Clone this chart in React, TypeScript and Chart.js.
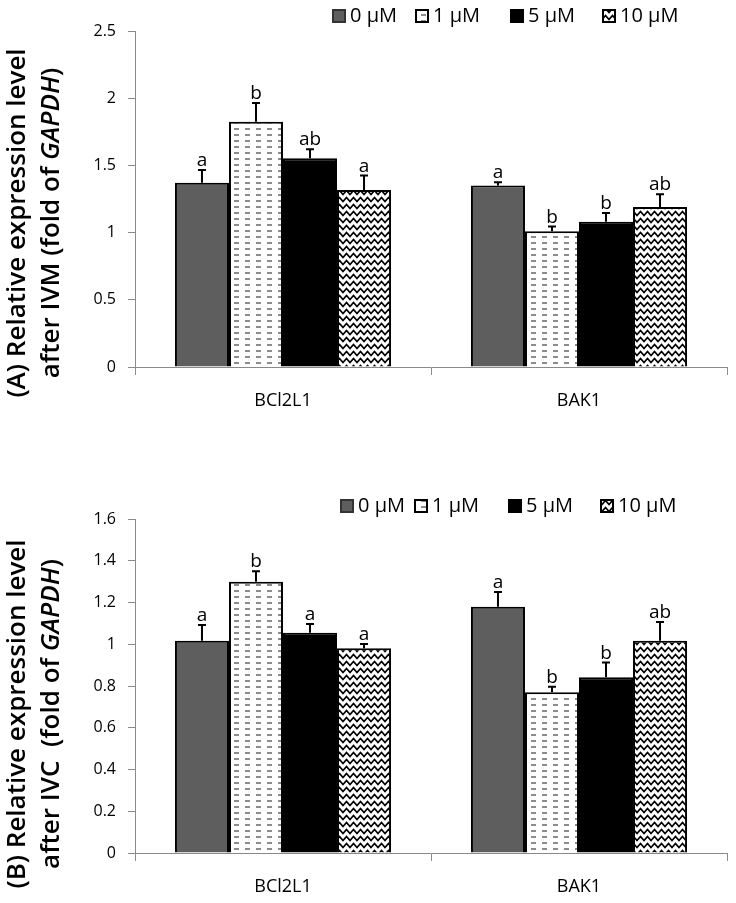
import React, { useEffect, useRef } from "react";
import { Chart, registerables } from "chart.js";

Chart.register(...registerables);

// ---------- data ----------
const categories = ["BCl2L1", "BAK1"];
const seriesLabels = ["0 μM", "1 μM", "5 μM", "10 μM"];

// (A) after IVM
const ivm0uM = [1.37, 1.35];
const ivm1uM = [1.825, 1.01];
const ivm5uM = [1.553, 1.08];
const ivm10uM = [1.317, 1.19];
const ivmErr0uM = [0.095, 0.025];
const ivmErr1uM = [0.14, 0.035];
const ivmErr5uM = [0.067, 0.065];
const ivmErr10uM = [0.107, 0.095];
const ivmLetters0uM = ["a", "a"];
const ivmLetters1uM = ["b", "b"];
const ivmLetters5uM = ["ab", "b"];
const ivmLetters10uM = ["a", "ab"];
const ivmTickLabels = ["0", "0.5", "1", "1.5", "2", "2.5"];

// (B) after IVC
const ivc0uM = [1.017, 1.18];
const ivc1uM = [1.3, 0.77];
const ivc5uM = [1.055, 0.842];
const ivc10uM = [0.981, 1.017];
const ivcErr0uM = [0.075, 0.07];
const ivcErr1uM = [0.05, 0.027];
const ivcErr5uM = [0.042, 0.07];
const ivcErr10uM = [0.02, 0.09];
const ivcLetters0uM = ["a", "a"];
const ivcLetters1uM = ["b", "b"];
const ivcLetters5uM = ["a", "b"];
const ivcLetters10uM = ["a", "ab"];
const ivcTickLabels = ["0", "0.2", "0.4", "0.6", "0.8", "1", "1.2", "1.4", "1.6"];

const titleA1 = [{ t: "(A) Relative expression level", i: false }];
const titleA2 = [
  { t: "after IVM (fold of ", i: false },
  { t: "GAPDH", i: true },
  { t: ")", i: false },
];
const titleB1 = [{ t: "(B) Relative expression level", i: false }];
const titleB2 = [
  { t: "after IVC  (fold of ", i: false },
  { t: "GAPDH", i: true },
  { t: ")", i: false },
];

// ---------- styling ----------
const FONT = '"Open Sans", "Noto Sans", sans-serif';
const AXIS = "#8a8a8a";

function dashPattern(ctx: CanvasRenderingContext2D) {
  const c = document.createElement("canvas");
  c.width = 11;
  c.height = 6;
  const g = c.getContext("2d")!;
  g.fillStyle = "#fff";
  g.fillRect(0, 0, 11, 6);
  g.strokeStyle = "#666";
  g.lineWidth = 1.5;
  g.beginPath();
  g.moveTo(3, 3);
  g.lineTo(8, 3);
  g.stroke();
  return ctx.createPattern(c, "repeat")!;
}

function zigzagPattern(ctx: CanvasRenderingContext2D) {
  const c = document.createElement("canvas");
  c.width = 7;
  c.height = 7;
  const g = c.getContext("2d")!;
  g.fillStyle = "#fff";
  g.fillRect(0, 0, 7, 7);
  g.strokeStyle = "#000";
  g.lineWidth = 1.8;
  g.beginPath();
  g.moveTo(-3.5, 1.5);
  g.lineTo(0, 5.5);
  g.lineTo(3.5, 1.5);
  g.lineTo(7, 5.5);
  g.lineTo(10.5, 1.5);
  g.stroke();
  return ctx.createPattern(c, "repeat")!;
}

type Seg = { t: string; i: boolean };

interface PanelSpec {
  height: number;
  top: number;
  xHeight: number;
  max: number;
  step: number;
  tickLabels: string[];
  values: number[][];
  errors: number[][];
  letters: string[][];
  title: Seg[][];
  titleX: number[];
  titleY: number;
  legendX: number[];
  legendY: number;
}

const panelA: PanelSpec = {
  height: 450,
  top: 31,
  xHeight: 83,
  max: 2.5,
  step: 0.5,
  tickLabels: ivmTickLabels,
  values: [ivm0uM, ivm1uM, ivm5uM, ivm10uM],
  errors: [ivmErr0uM, ivmErr1uM, ivmErr5uM, ivmErr10uM],
  letters: [ivmLetters0uM, ivmLetters1uM, ivmLetters5uM, ivmLetters10uM],
  title: [titleA1, titleA2],
  titleX: [18, 52],
  titleY: 223,
  legendX: [332, 415, 510, 602],
  legendY: 16,
};

const panelB: PanelSpec = {
  height: 453,
  top: 69,
  xHeight: 50,
  max: 1.6,
  step: 0.2,
  tickLabels: ivcTickLabels,
  values: [ivc0uM, ivc1uM, ivc5uM, ivc10uM],
  errors: [ivcErr0uM, ivcErr1uM, ivcErr5uM, ivcErr10uM],
  letters: [ivcLetters0uM, ivcLetters1uM, ivcLetters5uM, ivcLetters10uM],
  title: [titleB1, titleB2],
  titleX: [18, 52],
  titleY: 264,
  legendX: [340, 414, 508, 600],
  legendY: 56,
};

function Panel({ spec }: { spec: PanelSpec }) {
  const ref = useRef<HTMLCanvasElement>(null);

  useEffect(() => {
    const canvas = ref.current!;
    const ctx = canvas.getContext("2d")!;
    const fills: (string | CanvasPattern)[] = [
      "#5e5e5e",
      dashPattern(ctx),
      "#000000",
      zigzagPattern(ctx),
    ];

    const errorPlugin = {
      id: "errLetters",
      afterDatasetsDraw(chart: any) {
        const c = chart.ctx;
        const y = chart.scales.y;
        c.save();
        spec.values.forEach((vals, i) => {
          const meta = chart.getDatasetMeta(i);
          vals.forEach((v, j) => {
            const bar = meta.data[j];
            const x = bar.x;
            const yTop = y.getPixelForValue(v + spec.errors[i][j]);
            const yBar = y.getPixelForValue(v);
            c.strokeStyle = "#000";
            c.lineWidth = 2;
            c.beginPath();
            c.moveTo(x, yBar);
            c.lineTo(x, yTop);
            c.moveTo(x - 4, yTop);
            c.lineTo(x + 4, yTop);
            c.stroke();
            c.fillStyle = "#000";
            c.font = `19px ${FONT}`;
            c.textAlign = "center";
            c.textBaseline = "alphabetic";
            c.fillText(spec.letters[i][j], x, yTop - 4);
          });
        });
        c.restore();
      },
    };

    const legendPlugin = {
      id: "customLegend",
      afterDraw(chart: any) {
        const c = chart.ctx;
        c.save();
        seriesLabels.forEach((lab, i) => {
          const bx = spec.legendX[i];
          const by = spec.legendY - 7;
          c.fillStyle = fills[i];
          c.fillRect(bx, by, 14, 14);
          c.strokeStyle = i === 0 ? "#333" : "#000";
          c.lineWidth = 2;
          c.strokeRect(bx + 1, by + 1, 12, 12);
          c.fillStyle = "#000";
          c.font = `20px ${FONT}`;
          c.textAlign = "left";
          c.textBaseline = "middle";
          c.fillText(lab, bx + 18, spec.legendY);
        });
        c.restore();
      },
    };

    const titlePlugin = {
      id: "yTitle",
      afterDraw(chart: any) {
        const c = chart.ctx;
        spec.title.forEach((segs, li) => {
          c.save();
          c.translate(spec.titleX[li], spec.titleY);
          c.rotate(-Math.PI / 2);
          c.fillStyle = "#000";
          c.textBaseline = "middle";
          c.textAlign = "left";
          const fonts = segs.map((s) => `${s.i ? "italic " : ""}600 26px ${FONT}`);
          const widths = segs.map((s, k) => {
            c.font = fonts[k];
            return c.measureText(s.t).width;
          });
          const total = widths.reduce((a, b) => a + b, 0);
          let x = -total / 2;
          segs.forEach((s, k) => {
            c.font = fonts[k];
            c.fillText(s.t, x, 0);
            x += widths[k];
          });
          c.restore();
        });
      },
    };

    const chart = new Chart(ctx, {
      type: "bar",
      data: {
        labels: categories,
        datasets: spec.values.map((vals, i) => ({
          label: seriesLabels[i],
          data: vals,
          backgroundColor: fills[i] as any,
          borderColor: "#000",
          borderWidth: 2,
          borderSkipped: "bottom" as const,
          categoryPercentage: 0.73,
          barPercentage: 1,
        })),
      },
      options: {
        animation: false,
        responsive: false,
        devicePixelRatio: 1,
        layout: { padding: { top: spec.top, right: 9, left: 0, bottom: 0 } },
        plugins: {
          legend: { display: false },
          tooltip: { enabled: false },
          title: { display: false },
        },
        scales: {
          x: {
            grid: {
              display: true,
              drawOnChartArea: false,
              drawTicks: true,
              tickLength: 8,
              color: AXIS,
              offset: true,
            },
            border: { color: AXIS, width: 1 },
            ticks: { color: "#000", font: { family: FONT, size: 18 }, padding: 15 },
            afterFit: (s: any) => {
              s.height = spec.xHeight;
            },
          },
          y: {
            min: 0,
            max: spec.max,
            ticks: {
              stepSize: spec.step,
              color: "#000",
              font: { family: FONT, size: 16 },
              padding: 12,
              callback: (_v: any, idx: number) => spec.tickLabels[idx],
            },
            grid: { drawOnChartArea: false, tickLength: 7, color: AXIS },
            border: { color: AXIS, width: 1 },
            afterFit: (s: any) => {
              s.width = 135;
            },
          },
        },
      } as any,
      plugins: [errorPlugin, legendPlugin, titlePlugin],
    });

    return () => chart.destroy();
  }, [spec]);

  return (
    <canvas
      ref={ref}
      width={736}
      height={spec.height}
      style={{ display: "block", width: 736, height: spec.height }}
    />
  );
}

export default function App() {
  return (
    <div style={{ position: "absolute", left: 0, top: 0, width: 736, background: "#fff" }}>
      <Panel spec={panelA} />
      <Panel spec={panelB} />
    </div>
  );
}
